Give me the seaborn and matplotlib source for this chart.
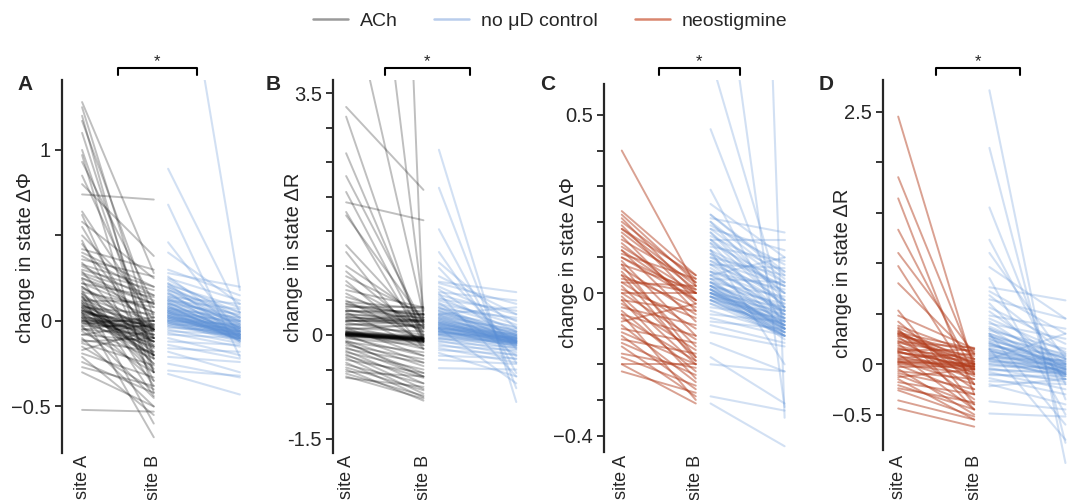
import numpy as np
import pandas as pd
import matplotlib.pyplot as plt
import seaborn as sns
from matplotlib.lines import Line2D
from matplotlib.transforms import blended_transform_factory

# paired values (site A, site B)
ach_phi = [(1.28, 0.28), (1.25, -0.10), (1.20, -0.30), (1.17, 0.02), (1.10, -0.20),
           (1.00, -0.22), (0.97, -0.42), (0.93, 0.10), (0.85, -0.05), (0.80, 0.38),
           (0.74, 0.71), (0.64, 0.00), (0.62, -0.30), (0.58, 0.25), (0.55, -0.15),
           (0.50, 0.08), (0.47, -0.35), (0.45, -0.10), (0.42, 0.30), (0.40, 0.20),
           (0.38, 0.15), (0.36, 0.26), (0.34, -0.05), (0.32, 0.12), (0.30, 0.18),
           (0.29, -0.20), (0.27, 0.10), (0.25, 0.05), (0.24, -0.38), (0.22, 0.14),
           (0.20, -0.10), (0.19, 0.02), (0.17, 0.08), (0.16, -0.25), (0.14, 0.00),
           (0.13, -0.05), (0.12, 0.11), (0.10, -0.30), (0.09, -0.02), (0.08, 0.04),
           (0.07, -0.12), (0.06, -0.06), (0.05, -0.20), (0.04, 0.00), (0.03, -0.08),
           (0.02, -0.35), (0.01, -0.04), (0.00, -0.10), (-0.01, -0.15), (-0.02, 0.02),
           (-0.03, -0.45), (-0.04, -0.22), (-0.05, -0.08), (-0.06, -0.30), (-0.08, -0.12),
           (-0.10, -0.50), (-0.11, -0.18), (-0.13, -0.26), (-0.15, -0.40), (-0.17, -0.05),
           (-0.19, -0.33), (-0.21, -0.55), (-0.24, -0.42), (-0.27, -0.38), (-0.30, -0.50),
           (-0.52, -0.53), (0.05, -0.68), (0.15, -0.60), (0.00, 0.00), (0.02, -0.02),
           (0.06, -0.04), (-0.01, -0.06), (0.08, -0.15), (0.11, -0.28), (0.18, -0.44),
           (0.10, -0.12), (0.08, -0.18), (0.12, -0.22), (0.06, -0.10), (0.04, -0.14),
           (0.09, -0.08), (0.03, -0.16), (0.14, -0.25), (0.00, -0.05), (-0.03, -0.03),
           (0.02, -0.12), (0.05, -0.03), (-0.05, 0.00), (0.07, -0.20), (0.11, -0.05),
           (0.16, -0.12), (0.20, -0.05), (0.25, 0.10), (0.28, 0.15), (0.33, 0.20),
           (0.22, 0.05), (-0.08, -0.02), (-0.12, -0.10), (0.01, -0.20)]

ctrl_phi_a = [(2.69, 0.18), (0.89, 0.05), (0.68, -0.21), (0.46, -0.08), (0.40, 0.10),
              (0.28, 0.20), (0.26, -0.05), (0.25, 0.12), (0.24, 0.02), (0.22, -0.10),
              (0.21, 0.08), (0.20, 0.00), (0.19, -0.04), (0.18, 0.05), (0.17, -0.12),
              (0.16, 0.03), (0.15, -0.02), (0.14, 0.10), (0.13, -0.06), (0.12, 0.01),
              (0.11, -0.08), (0.10, 0.04), (0.10, -0.03), (0.09, -0.10), (0.08, 0.00),
              (0.08, -0.05), (0.07, 0.02), (0.06, -0.07), (0.06, -0.01), (0.05, -0.04),
              (0.05, -0.09), (0.04, 0.00), (0.03, -0.06), (0.03, -0.11), (0.02, -0.03),
              (0.02, -0.08), (0.01, -0.05), (0.00, -0.09), (0.00, -0.02), (-0.01, -0.07),
              (-0.01, -0.12), (-0.02, -0.04), (-0.03, -0.10), (-0.04, -0.06), (-0.05, -0.13),
              (-0.06, -0.08), (-0.07, -0.15), (-0.08, -0.10), (-0.10, -0.20), (-0.12, -0.14),
              (-0.16, -0.18), (-0.18, -0.30), (-0.21, -0.24), (-0.25, -0.33), (-0.29, -0.32),
              (-0.31, -0.43), (0.30, 0.15), (0.12, 0.07), (-0.14, -0.22),
              (0.12, -0.04), (0.10, -0.07), (0.08, -0.09), (0.06, -0.05), (0.04, -0.08),
              (0.02, -0.10), (0.00, -0.06), (0.14, -0.02), (0.16, -0.06), (0.18, -0.01),
              (0.05, -0.11), (0.03, -0.04), (0.09, -0.12), (0.07, -0.03), (0.11, -0.09),
              (0.01, -0.07), (-0.02, -0.09), (0.13, 0.00), (0.20, 0.02), (0.22, 0.05),
              (0.01, -0.08), (0.03, -0.09), (0.05, -0.06), (-0.01, -0.10), (0.07, -0.08),
              (0.00, -0.11), (0.04, -0.10), (0.02, -0.06), (0.06, -0.11), (-0.03, -0.08)]

ach_r = [(28.0, 0.10), (9.5, 0.35), (5.2, 0.29), (3.30, 2.10), (3.16, -0.10),
         (2.63, 0.00), (2.30, 0.15), (2.07, -0.05), (1.92, 1.66), (1.78, -0.10),
         (1.73, 0.20), (1.30, 0.10), (1.20, -0.20), (1.00, 0.25), (0.92, 0.00),
         (0.85, 0.30), (0.78, -0.15), (0.72, 0.12), (0.65, 0.40), (0.60, 0.05),
         (0.55, 0.22), (0.50, -0.08), (0.48, 0.38), (0.45, 0.18), (0.42, 0.30),
         (0.40, 0.40), (0.38, 0.08), (0.35, 0.25), (0.33, -0.20), (0.30, 0.20),
         (0.28, 0.10), (0.26, 0.18), (0.24, -0.05), (0.22, 0.14), (0.20, 0.22),
         (0.18, 0.00), (0.15, 0.12), (0.12, -0.10), (0.10, 0.05), (0.08, 0.15),
         (0.06, -0.02), (0.05, -0.05), (0.04, -0.03), (0.03, -0.06), (0.03, -0.04),
         (0.02, -0.07), (0.02, -0.05), (0.01, -0.08), (0.01, -0.06), (0.00, -0.07),
         (0.00, -0.10), (-0.01, -0.09), (-0.02, -0.12), (-0.03, -0.30), (-0.05, -0.15),
         (-0.08, -0.45), (-0.10, -0.25), (-0.12, -0.55), (-0.15, -0.35), (-0.18, -0.60),
         (-0.20, -0.40), (-0.23, -0.70), (-0.25, -0.50), (-0.28, -0.78), (-0.30, -0.62),
         (-0.33, -0.85), (-0.36, -0.55), (-0.40, -0.90), (-0.43, -0.70), (-0.47, -0.80),
         (-0.50, -0.95), (-0.53, -0.60), (-0.56, -0.88), (-0.60, -0.92), (-0.62, -0.75),
         (0.35, 0.35), (0.20, 0.30),
         (0.01, -0.06), (0.02, -0.08), (0.00, -0.04), (-0.01, -0.07), (0.03, -0.09),
         (0.02, -0.03), (0.01, -0.10), (-0.02, -0.05), (0.00, -0.08), (0.04, -0.06),
         (0.25, 0.22), (0.30, 0.25), (0.35, 0.30), (0.20, 0.20), (0.45, 0.28),
         (0.15, 0.20), (0.10, -0.30), (0.00, -0.40), (-0.10, -0.60), (0.05, -0.20)]

ctrl_r_b = [(2.68, -0.97), (2.13, -0.77), (1.53, -0.55), (1.20, -0.40), (1.05, 0.10),
            (0.97, -0.20), (0.85, 0.30), (0.77, 0.62), (0.75, 0.45), (0.70, 0.20),
            (0.66, -0.10), (0.62, 0.50), (0.58, 0.30), (0.55, 0.05), (0.52, 0.35),
            (0.50, 0.15), (0.47, -0.30), (0.45, 0.22), (0.43, 0.10), (0.40, 0.00),
            (0.38, 0.25), (0.36, 0.05), (0.34, -0.05), (0.32, 0.12), (0.30, 0.02),
            (0.28, -0.10), (0.26, 0.08), (0.24, -0.02), (0.22, -0.08), (0.20, 0.04),
            (0.18, -0.12), (0.17, -0.04), (0.15, 0.00), (0.14, -0.15), (0.12, -0.06),
            (0.10, -0.10), (0.09, -0.02), (0.08, -0.18), (0.06, -0.08), (0.05, -0.12),
            (0.04, -0.04), (0.02, -0.15), (0.01, -0.09), (0.00, -0.20), (-0.02, -0.12),
            (-0.04, -0.25), (-0.06, -0.14), (-0.08, -0.30), (-0.10, -0.18), (-0.13, -0.35),
            (-0.16, -0.22), (-0.19, -0.40), (-0.22, -0.28), (-0.26, -0.60), (-0.30, -0.34),
            (-0.36, -0.42), (-0.48, -0.50), (0.30, 0.40), (0.60, -0.60), (0.10, -0.70),
            (0.25, -0.05), (0.20, -0.08), (0.15, -0.10), (0.10, -0.05), (0.05, -0.08),
            (0.00, -0.12), (0.18, 0.00), (0.12, -0.12), (0.08, -0.06), (0.22, -0.14),
            (0.30, 0.05), (0.28, -0.02), (0.02, -0.04), (0.06, -0.16), (0.14, -0.03),
            (0.35, 0.00), (0.40, -0.10), (-0.05, -0.10), (0.10, 0.02), (0.16, -0.07),
            (0.12, -0.08), (0.18, -0.10), (0.08, -0.12), (0.24, -0.06), (0.04, -0.10)]

neo_phi = [(0.40, 0.02), (0.23, 0.05), (0.22, 0.03), (0.21, 0.00), (0.20, 0.04),
           (0.19, -0.02), (0.18, 0.02), (0.17, 0.01), (0.16, -0.05), (0.15, 0.03),
           (0.14, -0.03), (0.13, 0.00), (0.12, -0.08), (0.11, 0.04), (0.10, -0.02),
           (0.09, -0.12), (0.08, 0.01), (0.07, -0.06), (0.06, -0.15), (0.05, -0.04),
           (0.04, 0.00), (0.03, -0.10), (0.02, -0.18), (0.01, -0.07), (0.00, 0.00),
           (0.00, -0.13), (-0.01, -0.20), (-0.02, -0.05), (-0.03, -0.16), (-0.04, -0.09),
           (-0.05, -0.22), (-0.06, -0.12), (-0.07, -0.19), (-0.08, -0.03), (-0.09, -0.25),
           (-0.10, -0.14), (-0.11, -0.20), (-0.12, -0.27), (-0.13, -0.17), (-0.14, -0.23),
           (-0.15, -0.29), (-0.17, -0.21), (-0.18, -0.26), (-0.20, -0.20), (-0.20, -0.31),
           (-0.22, -0.28), (0.08, -0.18), (0.12, -0.02), (0.18, 0.05), (0.05, -0.19),
           (-0.02, -0.24), (0.03, 0.02), (0.10, 0.00), (-0.06, -0.30)]

ctrl_phi_c = [(5.6, -0.35), (1.19, -0.32), (0.66, -0.05), (0.46, -0.08), (0.29, -0.10),
              (0.25, 0.10), (0.22, 0.05), (0.21, 0.17), (0.20, -0.02), (0.19, 0.08),
              (0.18, 0.12), (0.17, 0.00), (0.16, 0.06), (0.15, -0.04), (0.14, 0.03),
              (0.13, 0.09), (0.12, -0.06), (0.11, 0.02), (0.10, 0.05), (0.09, -0.03),
              (0.08, 0.00), (0.08, 0.07), (0.07, -0.05), (0.06, 0.01), (0.06, -0.02),
              (0.05, -0.07), (0.04, 0.03), (0.04, -0.04), (0.03, -0.01), (0.03, -0.08),
              (0.02, -0.05), (0.02, -0.03), (0.01, -0.06), (0.01, -0.09), (0.00, -0.04),
              (0.00, -0.07), (-0.01, -0.08), (-0.01, -0.05), (-0.02, -0.10), (-0.02, -0.06),
              (-0.03, -0.09), (-0.04, -0.07), (-0.05, -0.11), (-0.06, -0.08), (-0.07, -0.12),
              (-0.08, -0.10), (-0.11, -0.15), (-0.14, -0.22), (-0.20, -0.22), (-0.29, -0.33),
              (-0.31, -0.43), (-0.18, -0.31), (0.12, -0.20), (0.05, 0.10), (-0.09, -0.14),
              (0.15, 0.15),
              (0.02, -0.09), (0.01, -0.10), (0.00, -0.08), (-0.01, -0.11), (0.03, -0.07),
              (0.02, -0.12), (0.00, -0.10), (-0.02, -0.12), (0.05, -0.05), (0.10, -0.02),
              (0.12, 0.02), (0.15, 0.00), (0.18, 0.03), (0.20, 0.04), (0.22, 0.06),
              (0.14, -0.08), (0.08, -0.06), (0.06, -0.09), (0.01, -0.13), (-0.03, -0.12),
              (0.17, -0.04), (0.09, 0.02), (0.11, -0.10), (0.04, -0.11),
              (0.00, -0.09), (-0.01, -0.09), (0.01, -0.11), (0.02, -0.10), (-0.02, -0.11),
              (0.00, -0.12), (0.03, -0.10), (-0.01, -0.12)]

neo_r = [(2.45, -0.05), (1.85, 0.00), (1.64, -0.30), (1.33, -0.10), (1.10, 0.10),
         (0.97, -0.20), (0.80, 0.05), (0.53, -0.40), (0.48, 0.15), (0.42, -0.20),
         (0.38, 0.10), (0.36, 0.00), (0.33, -0.10), (0.31, 0.15), (0.30, 0.05),
         (0.29, -0.05), (0.28, 0.12), (0.27, -0.25), (0.25, 0.02), (0.23, -0.12),
         (0.21, 0.08), (0.20, -0.35), (0.18, 0.00), (0.16, -0.06), (0.14, 0.14),
         (0.13, -0.15), (0.12, -0.02), (0.11, 0.03), (0.10, -0.45), (0.08, -0.08),
         (0.06, 0.10), (0.04, -0.03), (0.03, -0.20), (0.02, 0.00), (0.01, -0.05),
         (0.00, -0.10), (-0.01, -0.30), (-0.03, -0.02), (-0.05, -0.50), (-0.07, -0.15),
         (-0.09, -0.25), (-0.11, -0.40), (-0.13, -0.05), (-0.15, -0.55), (-0.18, -0.30),
         (-0.21, -0.45), (-0.24, -0.38), (-0.26, -0.52), (-0.36, -0.55), (-0.44, -0.62),
         (0.35, -0.45), (0.22, 0.16),
         (0.30, 0.00), (0.32, -0.05), (0.12, -0.03), (0.02, -0.02), (0.05, 0.00),
         (0.15, 0.05)]

ctrl_r_d = [(2.71, -0.98), (2.14, -0.78), (1.55, -0.35), (1.23, -0.20), (1.10, 0.05),
            (0.96, 0.45), (0.85, -0.50), (0.76, 0.63), (0.72, 0.30), (0.68, 0.10),
            (0.64, 0.45), (0.60, -0.15), (0.56, 0.20), (0.52, 0.00), (0.48, 0.35),
            (0.45, 0.12), (0.42, -0.05), (0.40, 0.25), (0.37, 0.05), (0.35, -0.10),
            (0.33, 0.15), (0.30, 0.02), (0.28, -0.06), (0.27, 0.10), (0.25, -0.02),
            (0.23, 0.06), (0.21, -0.10), (0.20, 0.00), (0.18, 0.08), (0.16, -0.05),
            (0.14, -0.12), (0.12, 0.03), (0.10, -0.08), (0.08, -0.02), (0.06, -0.15),
            (0.04, -0.06), (0.02, 0.00), (0.00, -0.10), (-0.02, -0.04), (-0.04, -0.18),
            (-0.06, -0.08), (-0.08, -0.25), (-0.11, -0.12), (-0.14, -0.30), (-0.17, -0.20),
            (-0.20, -0.40), (-0.22, -0.15), (-0.37, -0.45), (-0.49, -0.52), (0.15, -0.75),
            (0.30, -0.60), (0.05, 0.30),
            (0.25, 0.00), (0.20, -0.05), (0.15, 0.00), (0.10, -0.04), (0.05, -0.08),
            (0.30, 0.05), (0.22, -0.10), (0.12, -0.02), (0.00, -0.06), (-0.05, -0.10),
            (0.18, 0.02), (0.08, -0.10), (0.28, -0.03), (0.03, -0.12), (0.35, 0.08),
            (0.14, -0.08), (-0.10, -0.15), (0.06, 0.04)]

site_labels = ['site A', 'site B']
panel_letters = ['A', 'B', 'C', 'D']
ylabels = ['change in state \u0394\u03a6', 'change in state \u0394R',
           'change in state \u0394\u03a6', 'change in state \u0394R']
legend_labels = ['ACh', 'no \u03bcD control', 'neostigmine']

ACH = '#000000'
NEO = '#b23c1c'
CTRL = '#5a8fd6'


def pairs_frame(pairs, x0):
    arr = np.array(pairs)
    n = len(arr)
    return pd.DataFrame({'id': np.repeat(np.arange(n), 2),
                         'x': np.tile([x0, x0 + 1.0], n),
                         'v': arr.ravel()})


sns.set_style('ticks')
plt.rcParams['font.family'] = ['Liberation Sans', 'DejaVu Sans']

fig = plt.figure(figsize=(10.72, 5), dpi=100)
W, H = 1072, 500

# per panel: left px, width px, xlim, ylim, spine bounds, ticks, tick labels, ylabel anchor px
panels = [
    dict(data=(ach_phi, ctrl_phi_a), col=(ACH, 0.25), left=62, width=185, xlim=(-0.28, 2.3),
         ylim=(-0.772, 1.409), spine=(-0.772, 1.409),
         ticks=[-0.5, 0, 0.5, 1], tl=['\u22120.5', '0', '', '1'], clip=True, lab=(35, 258)),
    dict(data=(ach_r, ctrl_r_b), col=(ACH, 0.25), left=333, width=191, xlim=(-0.17, 2.3),
         ylim=(-1.708, 3.690), spine=(-1.708, 3.690),
         ticks=list(np.arange(-1.5, 3.51, 0.5)),
         tl=['-1.5', '', '', '0', '', '', '', '', '', '', '3.5'], clip=True, lab=(303, 257)),
    dict(data=(neo_phi, ctrl_phi_c), col=(NEO, 0.48), left=604, width=188, xlim=(-0.24, 2.3),
         ylim=(-0.449, 0.598), spine=(-0.447, 0.587),
         ticks=list(np.round(np.arange(-0.4, 0.51, 0.1), 1)),
         tl=['\u22120.4', '', '', '', '0', '', '', '', '', '0.5'], clip=True, lab=(578, 263)),
    dict(data=(neo_r, ctrl_r_d), col=(NEO, 0.48), left=883, width=187, xlim=(-0.2, 2.26),
         ylim=(-0.881, 2.812), spine=(-0.85, 2.812),
         ticks=list(np.arange(-0.5, 2.51, 0.5)),
         tl=['\u22120.5', '0', '', '', '', '', '2.5'], clip=False, lab=(852, 273)),
]

top_px, bot_px = 80, 453
letter_x = [25, 273, 548, 826]

for i, p in enumerate(panels):
    ax = fig.add_axes([p['left'] / W, 1 - bot_px / H, p['width'] / W, (bot_px - top_px) / H])
    treat, ctrl = p['data']
    color, alpha = p['col']
    sns.lineplot(data=pairs_frame(ctrl, 1.2), x='x', y='v', units='id', estimator=None,
                 color=CTRL, alpha=0.27, lw=1.5, ax=ax, legend=False, clip_on=p['clip'])
    sns.lineplot(data=pairs_frame(treat, 0.0), x='x', y='v', units='id', estimator=None,
                 color=color, alpha=alpha, lw=1.4, ax=ax, legend=False, clip_on=p['clip'])
    ax.set_xlim(p['xlim'])
    ax.set_ylim(p['ylim'])
    for s in ['top', 'right', 'bottom']:
        ax.spines[s].set_visible(False)
    ax.spines['left'].set_linewidth(1.6)
    ax.spines['left'].set_bounds(*p['spine'])
    ax.set_yticks(p['ticks'])
    ax.set_yticklabels(p['tl'])
    ax.tick_params(axis='y', direction='out', length=5, width=1.3, labelsize=14.5, pad=3)
    ax.set_xticks([0, 1])
    ax.set_xticklabels(site_labels, rotation=90, fontsize=13)
    ax.tick_params(axis='x', length=0, pad=1)
    ax.set_xlabel('')
    ax.set_ylabel(ylabels[i], fontsize=14.5)
    lx, ly = p['lab']
    ax.yaxis.set_label_coords((lx - p['left']) / p['width'], (bot_px - ly) / (bot_px - top_px))

    # significance bracket between group centres
    tr = blended_transform_factory(ax.transData, ax.transAxes)
    ax.plot([0.5, 0.5, 1.6, 1.6], [1.013, 1.032, 1.032, 1.013], color='black', lw=1.5,
            transform=tr, clip_on=False)
    ax.text(1.05, 1.048, '*', transform=tr, ha='center', va='center', fontsize=12)

    fig.text(letter_x[i] / W, 1 - 85 / H, panel_letters[i], fontsize=15, fontweight='bold',
             ha='center', va='center')

handles = [Line2D([], [], color='#9a9a9a', lw=1.8),
           Line2D([], [], color='#b9cdec', lw=1.8),
           Line2D([], [], color='#d9866f', lw=1.8)]
fig.legend(handles, legend_labels, loc='upper center', bbox_to_anchor=(0.513, 1.01), ncol=3,
           frameon=False, fontsize=14, handlelength=1.8, handletextpad=0.6, columnspacing=1.9)

fig.savefig('out.png', dpi=100)
